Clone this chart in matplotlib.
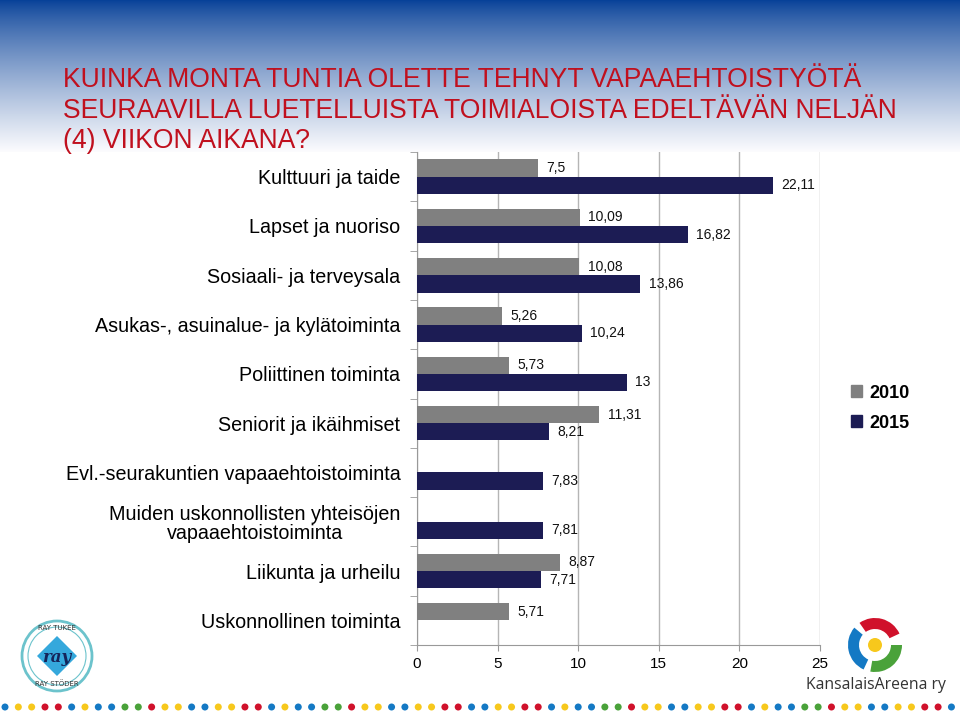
import numpy as np
import matplotlib
matplotlib.use('Agg')
import matplotlib.pyplot as plt
from matplotlib.patches import Circle, Wedge, Polygon

# ---------------- data ----------------
categories = [
    "Kulttuuri ja taide",
    "Lapset ja nuoriso",
    "Sosiaali- ja terveysala",
    "Asukas-, asuinalue- ja kylätoiminta",
    "Poliittinen toiminta",
    "Seniorit ja ikäihmiset",
    "Evl.-seurakuntien vapaaehtoistoiminta",
    "Muiden uskonnollisten yhteisöjen\nvapaaehtoistoiminta",
    "Liikunta ja urheilu",
    "Uskonnollinen toiminta",
]
vals_2010 = [7.5, 10.09, 10.08, 5.26, 5.73, 11.31, np.nan, np.nan, 8.87, 5.71]
vals_2015 = [22.11, 16.82, 13.86, 10.24, 13, 8.21, 7.83, 7.81, 7.71, np.nan]
series_names = ["2010", "2015"]
x_ticks = [0, 5, 10, 15, 20, 25]
title_lines = [
    "KUINKA MONTA TUNTIA OLETTE TEHNYT VAPAAEHTOISTYÖTÄ",
    "SEURAAVILLA LUETELLUISTA TOIMIALOISTA EDELTÄVÄN NELJÄN",
    "(4) VIIKON AIKANA?",
]
B, Y, R, G = "#1479c4", "#f7c81c", "#d0112b", "#4aa23a"
dot_pattern = [B, Y, Y, R, R, B, Y, B, B, G, G, R, Y, Y, B, B, Y, Y, R, R, B, Y, B, B, G, G, R, Y, Y, B, B, Y, Y, R, R, B]
dot_colors = dot_pattern + dot_pattern

colors = ["#808080", "#1c1c54"]

W, H = 960, 717
fig = plt.figure(figsize=(9.6, 7.17), dpi=100)
fig.patch.set_facecolor("white")

# ---------------- header gradient ----------------
bg = fig.add_axes([0, 1 - 152 / H, 1, 152 / H], zorder=0)
t = np.linspace(0, 1, 300)[:, None]
t = t ** 0.8
top = np.array([6, 64, 152]) / 255.0
bot = np.array([252, 252, 254]) / 255.0
img = top[None, None, :] * (1 - t[:, :, None]) + bot[None, None, :] * t[:, :, None]
img = np.repeat(img, 2, axis=1)
bg.imshow(img, aspect="auto", extent=[0, 1, 1, 0])
bg.set_axis_off()

# ---------------- decorations ----------------
dec = fig.add_axes([0, 0, 1, 1], zorder=1)
dec.set_xlim(0, W)
dec.set_ylim(H, 0)
dec.set_axis_off()
dec.patch.set_alpha(0)

for i, c in enumerate(dot_colors):
    dec.add_patch(Circle((5 + i * 13.33, 707), 3.5, color=c, lw=0))

# RAY logo
dec.add_patch(Circle((57, 656), 35, fill=False, ec="#6cc3cc", lw=2))
dec.add_patch(Circle((57, 656), 29, fill=False, ec="#6cc3cc", lw=0.8))
dec.add_patch(Polygon([(57, 636), (77, 656), (57, 676), (37, 656)], closed=True,
                      color="#35a8dc", lw=0))
dec.text(57, 658, "ray", ha="center", va="center", fontsize=12, style="italic",
         family="DejaVu Serif", color="#15245a", weight="bold")
dec.text(57, 628, "RAY TUKEE", ha="center", va="center", fontsize=5, color="#333333")
dec.text(57, 684, "RAY STÖDER", ha="center", va="center", fontsize=5, color="#333333")

# KansalaisAreena logo
cx, cy = 875, 645
dec.add_patch(Wedge((cx, cy), 27, 235, 335, width=11, color="#d0112b", lw=0))
dec.add_patch(Wedge((cx, cy), 27, 115, 220, width=11, color="#1479c4", lw=0))
dec.add_patch(Wedge((cx, cy), 27, 0, 100, width=11, color="#4aa23a", lw=0))
dec.add_patch(Circle((cx, cy), 7, color="#f7c81c", lw=0))
dec.text(876, 685, "KansalaisAreena ry", ha="center", va="center", fontsize=11.3,
         color="#333333", family="Open Sans")

# title
for k, line in enumerate(title_lines):
    fig.text(63 / W, 1 - (87 + 30.5 * k) / H, line, ha="left", va="baseline",
             fontsize=19.1, color="#c0101e", family="Liberation Sans")

# ---------------- main chart ----------------
ax = fig.add_axes([417 / W, 1 - 645 / H, (820 - 417) / W, (645 - 152) / H], zorder=2)
ax.patch.set_alpha(0)
n = len(categories)
ypos = np.arange(n)
h = 0.35
off = [-h / 2, h / 2]
for s, (vals, name) in enumerate(zip([vals_2010, vals_2015], series_names)):
    v = np.array(vals, dtype=float)
    bars = ax.barh(ypos + off[s], np.nan_to_num(v), height=h, color=colors[s],
                   label=name, zorder=3)
    for b, val in zip(bars, v):
        if np.isnan(val):
            b.set_visible(False)
            continue
        lab = ("%g" % val).replace(".", ",")
        ax.annotate(lab, (val, b.get_y() + b.get_height() / 2), xytext=(6, 0),
                    textcoords="offset points", ha="left", va="center",
                    fontsize=10, color="#111111", family="Liberation Sans")

ax.set_xlim(0, 25)
ax.set_ylim(n - 0.5, -0.5)
ax.set_xticks(x_ticks)
ax.set_xticklabels([str(x) for x in x_ticks], fontsize=11, family="Liberation Sans")
ax.set_yticks(ypos)
ax.set_yticklabels(categories, fontsize=14.2, family="Liberation Sans",
                   multialignment="center", linespacing=1.0)
ax.set_yticks(np.arange(-0.5, n, 1), minor=True)
ax.tick_params(axis="y", which="major", length=0, pad=12)
ax.tick_params(axis="y", which="minor", length=5, color="#999999", direction="out")
ax.tick_params(axis="x", length=4, color="#999999", pad=5)
ax.grid(axis="x", color="#b5b5b5", lw=1, zorder=0)
for sp in ["top", "right"]:
    ax.spines[sp].set_visible(False)
ax.spines["left"].set_color("#999999")
ax.spines["bottom"].set_color("#999999")

handles = [plt.Rectangle((0, 0), 1, 1, color=c) for c in colors]
fig.legend(handles, series_names, loc="center left",
           bbox_to_anchor=(835 / W, 1 - 408 / H), frameon=False,
           prop={"family": "Liberation Sans", "weight": "bold", "size": 13},
           handlelength=0.6, handleheight=0.6, handletextpad=0.4, labelspacing=0.72)

fig.savefig("out.png", dpi=100, facecolor="white")
